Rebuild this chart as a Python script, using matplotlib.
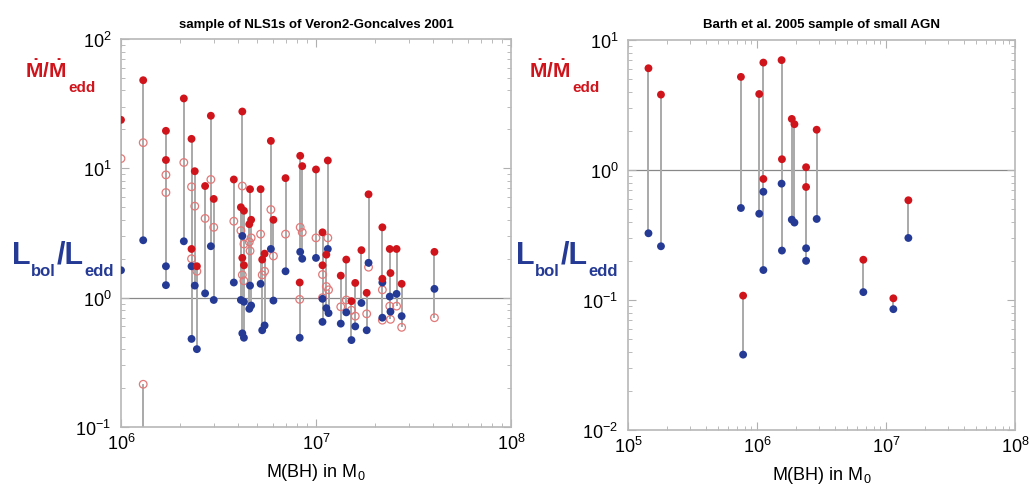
import numpy as np
import matplotlib
matplotlib.use("Agg")
import matplotlib.pyplot as plt
from matplotlib.ticker import LogLocator, NullFormatter

plt.rcParams['font.family'] = ['Liberation Sans', 'DejaVu Sans']
plt.rcParams['mathtext.fontset'] = 'custom'
plt.rcParams['mathtext.rm'] = 'Liberation Sans'
plt.rcParams['mathtext.bf'] = 'Liberation Sans:bold'
plt.rcParams['mathtext.it'] = 'Liberation Sans:italic'

# Left panel: NLS1s of Veron-Goncalves 2001
mass_nls = [1.0e6, 1.30e6, 1.30e6, 1.70e6, 1.70e6, 2.10e6, 2.30e6, 2.30e6, 2.39e6, 2.45e6,
            2.70e6, 2.89e6, 2.99e6, 3.79e6, 4.19e6, 4.12e6, 4.27e6, 4.19e6, 4.27e6,
            4.59e6, 4.65e6, 4.55e6, 5.2e6, 5.3e6, 5.45e6, 5.87e6, 6.05e6, 6.98e6,
            8.3e6, 8.5e6, 8.25e6, 1.0e7, 1.15e7, 1.13e7, 1.16e7, 1.08e7, 1.08e7,
            1.34e7, 1.43e7, 1.52e7, 1.59e7, 1.71e7, 1.82e7, 1.86e7, 2.19e7, 2.19e7,
            2.39e7, 2.41e7, 2.59e7, 2.75e7, 4.05e7]
mdot_nls = [23.7, 48, np.nan, 19.5, 11.6, 34.7, 16.9, 2.38, 9.5, 1.75,
            7.3, 25.5, 5.8, 8.2, 27.5, 5.0, 4.7, 2.03, 1.78,
            6.9, 4.0, 3.7, 6.9, 1.97, 2.19, 16.3, 4.0, 8.4,
            12.5, 10.4, 1.31, 9.8, 11.5, 2.15, np.nan, 3.2, 1.78,
            1.48, 1.97, 0.94, 1.30, 2.33, 1.09, 6.3, 3.5, 1.40,
            2.38, 1.55, 2.38, 1.28, 2.26]
mdot2_nls = [11.9, 15.8, 0.214, 8.9, 6.5, 11.1, 7.2, 2.0, 5.1, 1.6,
             4.1, 8.2, 3.5, 3.9, 7.3, 3.3, 2.6, 1.5, 1.35,
             2.3, 2.9, 2.7, 3.1, 1.5, 1.6, 4.8, 2.1, 3.1,
             3.5, 3.2, 0.97, 2.9, 2.9, 1.22, 1.15, 1.51, 1.0,
             0.85, 0.96, 0.8, 0.72, np.nan, 0.75, 1.72, 1.15, 0.67,
             0.86, 0.68, 0.86, 0.59, 0.70]
lbol_nls = [1.63, 2.78, 0.05, 1.75, 1.25, 2.73, 1.75, 0.48, 1.24, 0.40,
            1.08, 2.5, 0.96, 1.31, 3.0, 0.96, 0.93, 0.53, 0.49,
            1.24, 0.87, 0.82, 1.28, 0.56, 0.61, 2.38, 0.95, 1.6,
            2.26, 2.0, 0.49, 2.03, 2.38, 0.83, 0.76, 0.98, 0.65,
            0.63, 0.77, 0.47, 0.60, 0.91, 0.56, 1.86, 1.31, 0.70,
            1.02, 0.78, 1.07, 0.72, 1.17]

# Right panel: Barth et al. 2005 small AGN
mass_barth = [1.44e5, 1.80e5, 7.5e5, 7.8e5, 1.04e6, 1.12e6, 1.12e6, 1.55e6, 1.56e6,
              1.86e6, 1.95e6, 2.40e6, 2.40e6, 2.90e6, 6.67e6, 1.14e7, 1.49e7]
mdot_barth = [6.06, 3.8, 5.2, 0.108, 3.84, 6.7, 0.853, 7.0, 1.21,
              2.47, 2.25, 1.05, 0.74, 2.04, 0.204, 0.103, 0.585]
lbol_barth = [0.326, 0.259, 0.51, 0.038, 0.461, 0.68, 0.17, 0.785, 0.24,
              0.415, 0.394, 0.25, 0.20, 0.42, 0.115, 0.085, 0.30]

red = '#d0141c'
blue = '#243a95'
pink = '#e27878'
grey = '#a9a9a9'

W, H = 1035, 489
fig = plt.figure(figsize=(W / 100, H / 100), dpi=100)
ax1 = fig.add_axes([0.1169, 0.1247, 0.3768, 0.7935])
ax2 = fig.add_axes([0.6068, 0.1186, 0.3739, 0.7976])


def style_axis(ax, xlim, ylim):
    ax.set_xscale('log')
    ax.set_yscale('log')
    ax.set_xlim(*xlim)
    ax.set_ylim(*ylim)
    for s in ax.spines.values():
        s.set_color('#b8b8b8')
        s.set_linewidth(1.2)
    ax.xaxis.set_minor_locator(LogLocator(base=10, subs=np.arange(2, 10)))
    ax.yaxis.set_minor_locator(LogLocator(base=10, subs=np.arange(2, 10)))
    ax.xaxis.set_minor_formatter(NullFormatter())
    ax.yaxis.set_minor_formatter(NullFormatter())
    ax.tick_params(which='both', direction='in', top=True, right=True, color='#b0b0b0')
    ax.tick_params(which='major', length=6, labelsize=13, pad=7)
    ax.tick_params(axis='x', which='major', pad=4)
    ax.tick_params(which='minor', length=3)
    ax.axhline(1.0, color='#888888', lw=0.9, zorder=1)
    ax.set_xlabel(r'M(BH) in M$_{\mathregular{0}}$', fontsize=13, labelpad=6)


# left panel
m = np.array(mass_nls)
stack = np.vstack([mdot_nls, mdot2_nls, lbol_nls])
ax1.vlines(m, np.nanmin(stack, axis=0), np.nanmax(stack, axis=0), color=grey, lw=1.4, zorder=2)
ax1.scatter(m, mdot2_nls, s=30, facecolors='none', edgecolors=pink, linewidths=0.9, zorder=3)
ax1.scatter(m, lbol_nls, s=32, color=blue, edgecolors='none', zorder=4)
ax1.scatter(m, mdot_nls, s=32, color=red, edgecolors='none', zorder=5)
style_axis(ax1, (1e6, 1e8), (1e-1, 1e2))
ax1.set_title('sample of NLS1s of Veron2-Goncalves 2001', fontsize=9.5, fontweight='bold', pad=9)

# right panel
mb = np.array(mass_barth)
stack_b = np.vstack([mdot_barth, lbol_barth])
ax2.vlines(mb, stack_b.min(axis=0), stack_b.max(axis=0), color=grey, lw=1.4, zorder=2)
ax2.scatter(mb, lbol_barth, s=32, color=blue, edgecolors='none', zorder=4)
ax2.scatter(mb, mdot_barth, s=32, color=red, edgecolors='none', zorder=5)
style_axis(ax2, (1e5, 1e8), (1e-2, 1e1))
ax2.set_title('Barth et al. 2005 sample of small AGN', fontsize=9.5, fontweight='bold', pad=9)


# y labels built from pieces, placed in pixel positions
def put(x, y, s, color, size):
    fig.text(x / W, 1 - y / H, s, color=color, fontsize=size, fontweight='bold',
             ha='left', va='baseline')


for dx in (0, 504):
    put(25 + dx, 78, r'$\mathbf{\dot{M}/\dot{M}}$', red, 15)
    put(68 + dx, 92, 'edd', red, 11)
    put(12 + dx, 264, 'L', blue, 22)
    put(31 + dx, 276, 'bol', blue, 12)
    put(57 + dx, 264, '/L', blue, 22)
    put(84 + dx, 276, 'edd', blue, 12)

fig.savefig('out.png', dpi=100)
